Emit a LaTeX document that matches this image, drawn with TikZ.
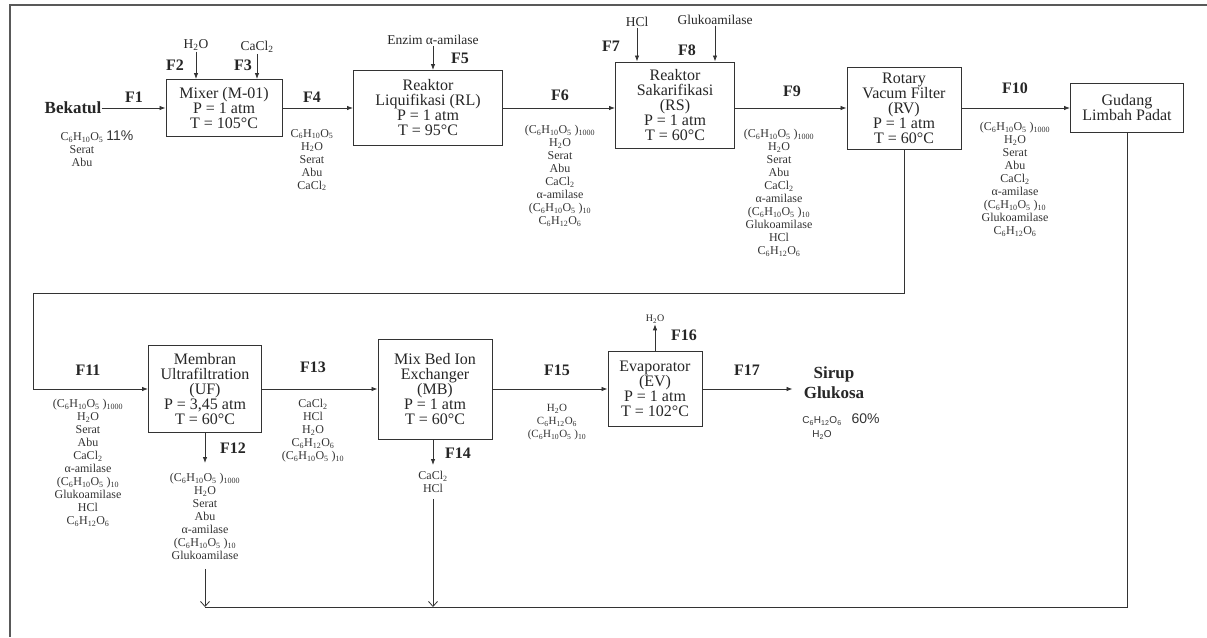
\documentclass[tikz,border=0pt]{standalone}
\usepackage{fontspec}
\setmainfont{Liberation Serif}
\newfontfamily\arialfont{Liberation Sans}
\usetikzlibrary{arrows.meta,positioning,calc}
\newcommand{\Cpati}{C\textsubscript{6}H\textsubscript{10}O\textsubscript{5}}
\newcommand{\Cglu}{C\textsubscript{6}H\textsubscript{12}O\textsubscript{6}}
\newcommand{\Hdua}{H\textsubscript{2}O}
\newcommand{\Ccl}{CaCl\textsubscript{2}}
\newcommand{\Kadar}[1]{{\arialfont\fontsize{14}{14}\selectfont #1}}

\begin{document}
\begin{tikzpicture}[
    x=1pt, y=-1pt,
    >={Latex[length=6pt,width=4.5pt]},
    unit/.style={draw=black!80, line width=1pt, align=center, inner sep=2pt, text=black!85, font=\fontsize{16}{15}\selectfont},
    flow/.style={text=black!85, inner sep=0pt, font=\bfseries\fontsize{16}{18}\selectfont},
    comp/.style={align=center, anchor=north, inner sep=0pt, text=black!80, font=\fontsize{12}{13}\selectfont},
    feed/.style={inner sep=1pt, text=black!85, font=\fontsize{13.5}{14}\selectfont},
    stream/.style={->, line width=0.8pt, draw=black!80},
    waste/.style={-{Straight Barb[length=5pt,width=9pt]}, line width=0.8pt, draw=black!80}
]
\useasboundingbox (0,0) rectangle (1207,637);
\draw[line width=1.2pt, black!65] (1207,5) -- (10,5) -- (10,637);

% top row
\node[flow, font=\bfseries\fontsize{17}{18}\selectfont] (bek) at (73,108) {Bekatul};
\node[comp] (bekc) at (82,131) {\Cpati\rlap{ \Kadar{11\%}}\\Serat\\Abu};
\node[unit, minimum width=116pt, minimum height=57pt] (mix) at (224,108) {Mixer (M-01)\\P = 1 atm\\T = 105°C};
\node[unit, minimum width=149pt, minimum height=75pt] (rl) at (428,108) {Reaktor\\Liquifikasi (RL)\\P = 1 atm\\T = 95°C};
\node[unit, minimum width=119pt, minimum height=86pt] (rs) at (675,105) {Reaktor\\Sakarifikasi\\(RS)\\P = 1 atm\\T = 60°C};
\node[unit, minimum width=114pt, minimum height=82pt] (rv) at (904,108) {Rotary\\Vacum Filter\\(RV)\\P = 1 atm\\T = 60°C};
\node[unit, minimum width=113pt, minimum height=49pt] (gud) at (1127,108) {Gudang\\Limbah Padat};

\node[feed] (fh2o) at (196,45) {\Hdua};
\node[feed] (fcacl) at (257,47) {\Ccl};
\node[feed] (fenz) at (433,40) {Enzim α-amilase};
\node[feed] (fhcl) at (637,22) {HCl};
\node[feed] (fglu) at (715,20) {Glukoamilase};

\node[flow] (lf1) at (134,97) {F1};
\node[flow] (lf2) at (175,65) {F2};
\node[flow] (lf3) at (243,65) {F3};
\node[flow] (lf4) at (312,97) {F4};
\node[flow] (lf5) at (460,58) {F5};
\node[flow] (lf6) at (560,95) {F6};
\node[flow] (lf7) at (611,46) {F7};
\node[flow] (lf8) at (687,50) {F8};
\node[flow] (lf9) at (792,91) {F9};
\node[flow] (lf10) at (1015,88) {F10};

\node[comp] (f4c) at (312,129) {\Cpati\\\Hdua\\Serat\\Abu\\\Ccl};
\node[comp] (f6c) at (560,125) {(\Cpati\ )\textsubscript{1000}\\\Hdua\\Serat\\Abu\\\Ccl\\α-amilase\\(\Cpati\ )\textsubscript{10}\\\Cglu};
\node[comp] (f9c) at (779,129) {(\Cpati\ )\textsubscript{1000}\\\Hdua\\Serat\\Abu\\\Ccl\\α-amilase\\(\Cpati\ )\textsubscript{10}\\Glukoamilase\\HCl\\\Cglu};
\node[comp] (f10c) at (1015,122) {(\Cpati\ )\textsubscript{1000}\\\Hdua\\Serat\\Abu\\\Ccl\\α-amilase\\(\Cpati\ )\textsubscript{10}\\Glukoamilase\\\Cglu};

\draw[stream] (bek) -- (mix);
\draw[stream] (fh2o) -- (fh2o |- mix.north);
\draw[stream] (fcacl) -- (fcacl |- mix.north);
\draw[stream] (mix) -- (rl);
\draw[stream] (fenz) -- (fenz |- rl.north);
\draw[stream] (rl.east) -- (rl.east -| rs.west);
\draw[stream] (fhcl) -- (fhcl |- rs.north);
\draw[stream] (fglu) -- (fglu |- rs.north);
\draw[stream] (rl.east -| rs.east) -- (rv.west);
\draw[stream] (rv) -- (gud);

% bottom row
\node[unit, minimum width=113pt, minimum height=87pt] (uf) at (205,389) {Membran\\Ultrafiltration\\(UF)\\P = 3,45 atm\\T = 60°C};
\node[unit, minimum width=114pt, minimum height=100pt] (mb) at (435,389) {Mix Bed Ion\\Exchanger\\(MB)\\P = 1 atm\\T = 60°C};
\node[unit, minimum width=94pt, minimum height=75pt] (ev) at (655,389) {Evaporator\\(EV)\\P = 1 atm\\T = 102°C};
\node[flow, align=center, font=\bfseries\fontsize{17}{20}\selectfont] (sirup) at (834,383) {Sirup\\Glukosa};
\node[comp, font=\arialfont\fontsize{10}{14}\selectfont] (sirc) at (822,414) {\Cglu\rlap{\quad\Kadar{60\%}}\\\Hdua};
\node[feed, font=\fontsize{10}{11}\selectfont] (fvap) at (655,319) {\Hdua};

\node[flow] (lf11) at (88,370) {F11};
\node[flow] (lf12) at (233,448) {F12};
\node[flow] (lf13) at (313,367) {F13};
\node[flow] (lf14) at (458,453) {F14};
\node[flow] (lf15) at (557,370) {F15};
\node[flow] (lf16) at (684,335) {F16};
\node[flow] (lf17) at (747,370) {F17};

\node[comp] (f11c) at (88,399) {(\Cpati\ )\textsubscript{1000}\\\Hdua\\Serat\\Abu\\\Ccl\\α-amilase\\(\Cpati\ )\textsubscript{10}\\Glukoamilase\\HCl\\\Cglu};
\node[comp] (f12c) at (205,473) {(\Cpati\ )\textsubscript{1000}\\\Hdua\\Serat\\Abu\\α-amilase\\(\Cpati\ )\textsubscript{10}\\Glukoamilase};
\node[comp] (f13c) at (313,399) {\Ccl\\HCl\\\Hdua\\\Cglu\\(\Cpati\ )\textsubscript{10}};
\node[comp] (f14c) at (433,471) {\Ccl\\HCl};
\node[comp, font=\fontsize{11}{13}\selectfont] (f15c) at (557,404) {\Hdua\\\Cglu\\(\Cpati\ )\textsubscript{10}};

\coordinate (rcyc) at (33,293);
\coordinate (wend) at (205,607);

\draw[stream] (rv.south) |- (rcyc) |- (uf.west);
\draw[stream] (uf) -- (mb);
\draw[stream] (mb) -- (ev);
\draw[stream, shorten >=11pt] (ev.east) -- (ev.east -| sirup.west);
\draw[stream] (ev.north) -- (fvap.south);
\draw[stream, shorten >=10pt] (uf.south) -- (f12c.north);
\draw[stream, shorten >=6pt] (mb.south -| f14c.north) -- (f14c.north);
\draw[line width=0.8pt, black!80] (gud.south) |- (wend);
\draw[waste, shorten <=9pt] (f12c.south) -- (wend);
\draw[waste, shorten <=6pt] (f14c.south) -- (f14c.south |- wend);
\end{tikzpicture}
\end{document}
